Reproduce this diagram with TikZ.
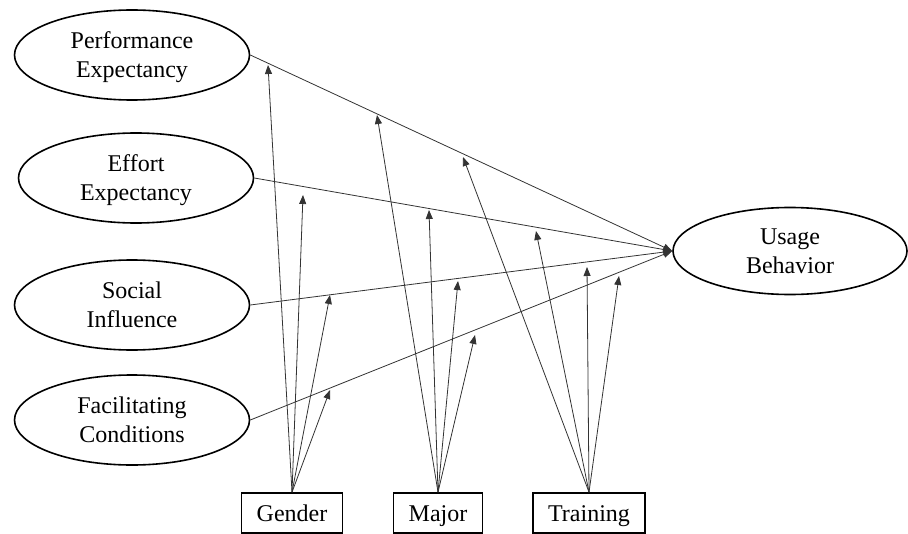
\documentclass[tikz,border=0pt]{standalone}
\usepackage{fontspec}
\setmainfont{Liberation Serif}
\usetikzlibrary{arrows.meta,shapes.geometric}

\begin{document}
\begin{tikzpicture}[
    x=0.5pt, y=-0.5pt,
    latent/.style={draw, ellipse, line width=0.8pt, inner sep=0pt,
                   minimum width=117.5pt, minimum height=45pt,
                   align=center, text depth=0pt,
                   font=\fontsize{12}{14.5}\selectfont},
    moder/.style={draw, rectangle, line width=0.8pt,
                  inner xsep=7.5pt, inner ysep=0pt, minimum height=20pt,
                  text height=8pt, text depth=0pt,
                  font=\fontsize{12}{14.5}\selectfont},
    arr/.style={-{Triangle[length=4.5pt,width=3.5pt]}, line width=0.4pt, draw=black!80}
]
\useasboundingbox (0,0) rectangle (908,534);

% Construits (gauche)
\node[latent] (pe) at (132, 55)  {Performance\\Expectancy};
\node[latent] (ee) at (136, 178) {Effort\\Expectancy};
\node[latent] (si) at (132, 305) {Social\\Influence};
\node[latent] (fc) at (132, 420) {Facilitating\\Conditions};

% Variable dependante
\node[latent, minimum width=117pt, minimum height=43.5pt] (ub) at (790, 251) {Usage\\Behavior};

% Moderateurs
\node[moder] (gen) at (292, 513) {Gender};
\node[moder] (maj) at (438, 513) {Major};
\node[moder] (tra) at (589, 513) {Training};

% Chemins principaux
\draw[arr] (pe.east) -- (ub.west);
\draw[arr] (ee.east) -- (ub.west);
\draw[arr] (si.east) -- (ub.west);
\draw[arr] (fc.east) -- (ub.west);

% Points de moderation
\coordinate (g1) at (268, 65);
\coordinate (g2) at (303, 195);
\coordinate (g3) at (330, 295);
\coordinate (g4) at (330, 390);
\coordinate (m1) at (377, 115);
\coordinate (m2) at (429, 210);
\coordinate (m3) at (458, 281);
\coordinate (m4) at (475, 335);
\coordinate (t1) at (463, 157);
\coordinate (t2) at (536, 231);
\coordinate (t3) at (587, 267);
\coordinate (t4) at (619, 276);

% Gender
\draw[arr] (gen.north) -- (g1);
\draw[arr] (gen.north) -- (g2);
\draw[arr] (gen.north) -- (g3);
\draw[arr] (gen.north) -- (g4);

% Major
\draw[arr] (maj.north) -- (m1);
\draw[arr] (maj.north) -- (m2);
\draw[arr] (maj.north) -- (m3);
\draw[arr] (maj.north) -- (m4);

% Training
\draw[arr] (tra.north) -- (t1);
\draw[arr] (tra.north) -- (t2);
\draw[arr] (tra.north) -- (t3);
\draw[arr] (tra.north) -- (t4);
\end{tikzpicture}
\end{document}
